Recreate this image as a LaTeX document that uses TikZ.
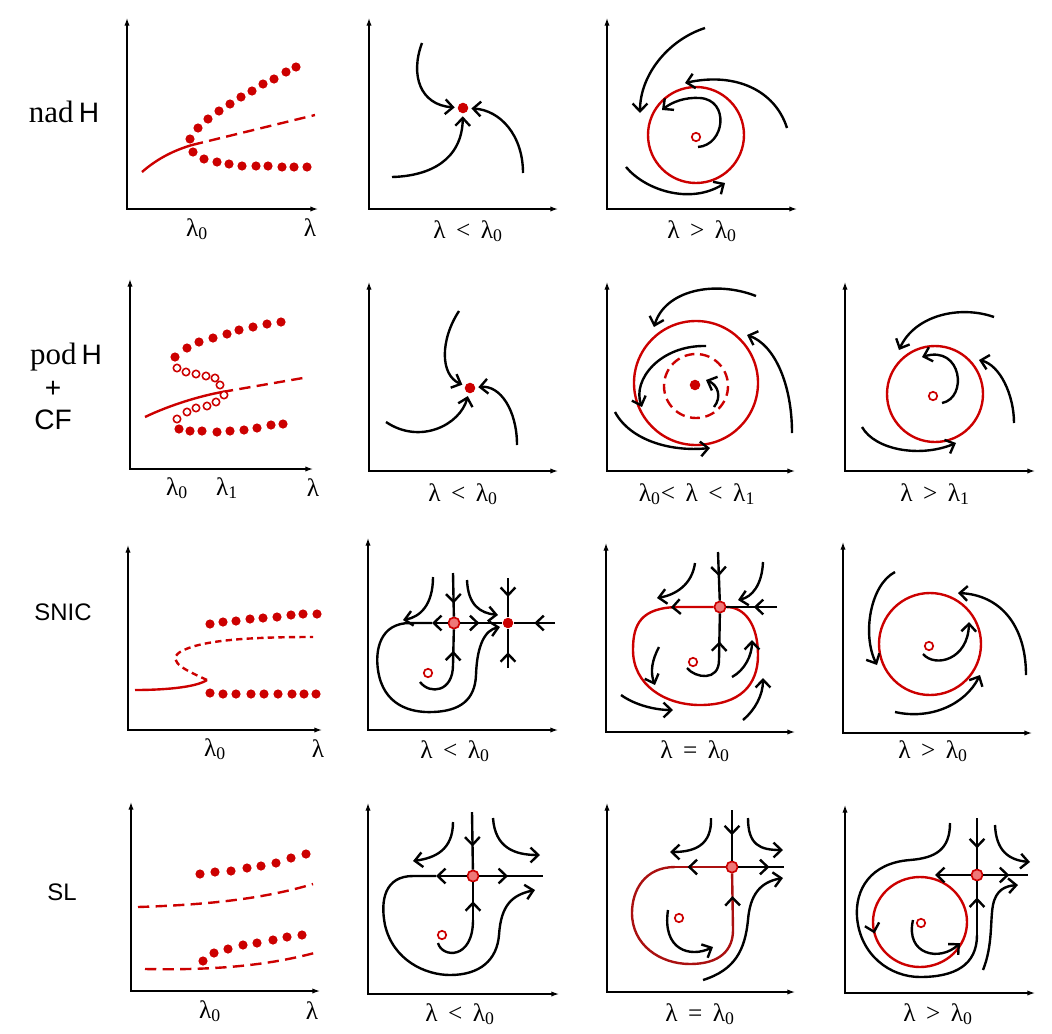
\documentclass[tikz,border=0pt]{standalone}
\usepackage{fontspec}
\setmainfont{Liberation Serif}
\setsansfont{Liberation Sans}
\usetikzlibrary{arrows.meta,decorations.markings}
\definecolor{bred}{RGB}{204,0,0}
\definecolor{dred}{RGB}{170,16,16}
\definecolor{sred}{RGB}{238,120,120}
\begin{document}
\begin{tikzpicture}[
x=0.025cm,y=-0.025cm,
>={Straight Barb[length=5.5pt,width=10.5pt]},
axis/.style={line width=0.9pt,{Latex[length=5.5pt,width=3.8pt]}-{Latex[length=5.5pt,width=3.8pt]}},
line/.style={line width=1.7pt},
flow/.style={line width=1.7pt,->},
orbit/.style={draw=bred,line width=1.7pt},
orbitdark/.style={draw=dred,line width=1.7pt},
longdash/.style={dash pattern=on 8pt off 4.5pt},
shortdash/.style={dash pattern=on 4.5pt off 3pt},
midarrow/.style={postaction={decorate,decoration={markings,mark=at position #1 with {\arrow{>}}}}},
blkarrow/.style={postaction={decorate,decoration={markings,mark=at position #1 with {\arrow[black]{>}}}}},
stable/.style={circle,fill=bred,inner sep=0pt,minimum size=7.5pt},
unstable/.style={circle,draw=bred,fill=white,line width=1.2pt,inner sep=0pt,minimum size=6pt},
saddle/.style={circle,draw=bred,fill=sred,line width=1.2pt,inner sep=0pt,minimum size=8pt},
lab/.style={font=\fontsize{18}{18}\selectfont},
rowlab/.style={font=\fontsize{22}{22}\selectfont},
sflab/.style={font=\sffamily\fontsize{17}{17}\selectfont}
]
\useasboundingbox (0,0) rectangle (1052,1033);

% axes
\foreach \ox/\oy/\top/\right in {127/209/18/318, 369/209/18/558, 607/209/18/797,
  130/469/279/313, 369/471/282/558, 607/471/282/795, 845/471/282/1035,
  128/730/545/322, 368/730/538/558, 606/732/543/795, 843/733/542/1032,
  131/991/802/320, 368/994/803/559, 607/992/803/795, 845/993/805/1035}
  \draw[axis] (\ox,\top) |- (\right,\oy);

% row labels
\node[rowlab] (nadH) at (64,112) {nad\,{\sffamily\fontsize{20}{20}\selectfont H}};
\node[rowlab] (podH) at (66,357) {pod\,{\sffamily\fontsize{20}{20}\selectfont H}};
\node[sflab,font=\sffamily\fontsize{20}{20}\selectfont] (plus) at (53,389) {+};
\node[sflab,font=\sffamily\fontsize{20}{20}\selectfont] (cf) at (53,420) {CF};
\node[sflab] (snic) at (63,612) {SNIC};
\node[sflab] (sl) at (62,892) {SL};

% ---------- row 1 ----------
\draw[orbit] (142,172) .. controls (158,158) and (175,150) .. (192,145);
\draw[orbit,longdash] (192,145) -- (315,115);
\foreach \x/\y in {190/139, 198/128, 208/119, 219/111, 230/104, 241/97, 252/91, 263/84, 274/79, 286/72, 296/67,
  193/152, 204/159, 217/162, 229/164, 242/166, 256/166, 268/166, 282/167, 294/167, 307/167}
  \fill[bred] (\x,\y) circle[radius=4.6];
\node[lab] (a10) at (197,229) {λ\textsubscript{0}};
\node[lab] (a1) at (310,228) {λ};

\node[stable] (p1) at (463,108) {};
\draw[flow,shorten >=2pt] (422,43) .. controls (410,75) and (420,105) .. (p1);
\draw[flow,shorten >=2pt] (392,177) .. controls (430,176) and (462,160) .. (p1);
\draw[flow,shorten >=2pt] (523,173) .. controls (523,135) and (500,110) .. (p1);
\node[lab] (b1) at (468,231) {λ\ \,<\ \,λ\textsubscript{0}};

\draw[orbit] (696,135) circle[radius=48];
\node[unstable] (u1) at (696,137) {};
\draw[flow] (705,28) .. controls (668,40) and (640,75) .. (640,113);
\draw[flow] (787,128) .. controls (775,90) and (735,72) .. (685,83);
\draw[flow] (698,147) .. controls (725,145) and (730,100) .. (700,98) .. controls (685,97) and (672,102) .. (662,110);
\draw[flow] (626,167) .. controls (645,190) and (690,205) .. (725,183);
\node[lab] (c1) at (702,231) {λ\ \,>\ \,λ\textsubscript{0}};

% ---------- row 2 ----------
\draw[orbit] (145,417) .. controls (170,405) and (200,396) .. (222,392);
\draw[orbit,longdash] (222,392) -- (303,378);
\foreach \x/\y in {175/357, 187/348, 199/342, 213/338, 227/334, 239/330, 253/327, 267/324, 281/322,
  179/429, 190/431, 202/431, 217/432, 230/431, 244/430, 257/428, 271/425, 283/424}
  \fill[bred] (\x,\y) circle[radius=4.6];
\foreach \x/\y in {177/368, 186/372, 196/374, 206/376, 215/378, 220/385, 224/395, 216/402, 207/406, 196/408, 187/412, 177/419}
  \draw[bred,line width=1.1pt,fill=white] (\x,\y) circle[radius=3.7];
\node[lab] (a20) at (177,488) {λ\textsubscript{0}};
\node[lab] (a21) at (227,488) {λ\textsubscript{1}};
\node[lab] (a2) at (313,488) {λ};

\node[stable] (p2) at (470,388) {};
\draw[flow,shorten >=2pt] (459,311) .. controls (440,340) and (440,375) .. (p2);
\draw[flow,shorten >=2pt] (386,422) .. controls (420,445) and (460,425) .. (p2);
\draw[flow,shorten >=2pt] (517,445) .. controls (517,410) and (500,385) .. (p2);
\node[lab] (b2) at (463,494) {λ\ \,<\ \,λ\textsubscript{0}};

\draw[orbit] (696,383) circle[radius=62];
\draw[orbit,dash pattern=on 7pt off 4pt] (696,386) circle[radius=32];
\node[stable] (p3) at (695,385) {};
\draw[flow] (756,296) .. controls (715,280) and (665,290) .. (654,327);
\draw[flow] (792,433) .. controls (792,385) and (775,345) .. (747,335);
\draw[flow] (706,346) .. controls (660,345) and (632,380) .. (642,407);
\draw[flow] (714,407) .. controls (722,397) and (718,385) .. (706,380);
\draw[flow] (615,412) .. controls (630,440) and (670,452) .. (710,448);
\node[lab] (c2) at (697,494) {λ\textsubscript{0}<\ \,λ\ \,<\ \,λ\textsubscript{1}};

\draw[orbit] (935,394) circle[radius=48];
\node[unstable] (u4) at (933,396) {};
\draw[flow] (994,317) .. controls (960,305) and (915,315) .. (899,350);
\draw[flow] (1014,423) .. controls (1014,395) and (1000,365) .. (979,360);
\draw[flow] (942,403) .. controls (968,398) and (962,345) .. (922,357);
\draw[flow] (862,427) .. controls (875,450) and (920,458) .. (956,443);
\node[lab] (d2) at (935,494) {λ\ \,>\ \,λ\textsubscript{1}};

% ---------- row 3 ----------
\draw[orbit] (135,690) .. controls (160,690) and (195,688) .. (207,680);
\draw[orbit,shortdash] (207,680) .. controls (190,672) and (165,662) .. (180,652) .. controls (200,640) and (250,637) .. (313,637);
\foreach \x/\y in {210/624, 223/622, 236/621, 250/619, 263/618, 277/617, 291/615, 303/614, 317/614,
  210/693, 223/694, 236/694, 251/694, 264/694, 278/694, 292/694, 304/694, 316/694}
  \fill[bred] (\x,\y) circle[radius=4.6];
\node[lab] (a30) at (215,749) {λ\textsubscript{0}};
\node[lab] (a3) at (318,749) {λ};

\node[saddle] (s5) at (454,623) {};
\node[stable] (p5) at (508,623) {};
\node[unstable] (u5) at (428,673) {};
\draw[line,midarrow=0.7] (453,573) -- (s5);
\draw[line,midarrow=0.45] (s5) -- (p5);
\draw[line,midarrow=0.5] (555,623) -- (p5);
\draw[line,midarrow=0.48] (508,578) -- (p5);
\draw[line,midarrow=0.4] (508,668) -- (p5);
\draw[flow] (s5) -- (432,623);
\draw[flow] (432,623) -- (410,623) .. controls (380,623) and (375,650) .. (378,670)
  .. controls (383,705) and (410,713) .. (433,712) .. controls (460,711) and (475,700) .. (476,675)
  .. controls (477,645) and (485,630) .. (500,627);
\draw[line] (420,682) .. controls (430,695) and (453,692) .. (453,665);
\draw[line,midarrow=0.4] (453,665) -- (s5);
\draw[flow] (433,577) .. controls (433,605) and (420,617) .. (403,620);
\draw[flow] (467,580) .. controls (468,605) and (480,613) .. (498,615);
\node[lab] (b3) at (455,751) {λ\ \,<\ \,λ\textsubscript{0}};

\node[saddle] (s6) at (720,607) {};
\node[unstable] (u6) at (693,662) {};
\draw[orbit,blkarrow=0.12] (s6) -- (680,607) .. controls (640,607) and (633,625) .. (633,650)
  .. controls (633,685) and (665,705) .. (700,705) .. controls (740,705) and (758,685) .. (758,655)
  .. controls (758,625) and (745,607) .. (s6);
\draw[line,midarrow=0.5] (718,552) -- (s6);
\draw[line] (687,668) .. controls (695,678) and (719,682) .. (719,660);
\draw[line,midarrow=0.4] (719,660) -- (s6);
\draw[line,midarrow=0.46] (777,607) -- (s6);
\draw[flow] (695,563) .. controls (692,585) and (675,595) .. (657,598);
\draw[flow] (763,562) .. controls (762,585) and (752,597) .. (738,600);
\draw[flow] (659,647) .. controls (652,660) and (650,672) .. (655,685);
\draw[flow] (732,677) .. controls (745,670) and (752,655) .. (752,640);
\draw[flow] (621,695) .. controls (635,705) and (655,710) .. (673,710);
\draw[flow] (743,720) .. controls (755,710) and (763,695) .. (763,678);
\node[lab] (c3) at (695,751) {λ\ \,=\ \,λ\textsubscript{0}};

\draw[orbit] (930,644) circle[radius=51];
\node[unstable] (u7) at (929,646) {};
\draw[flow] (895,572) .. controls (870,585) and (862,635) .. (877,665);
\draw[flow] (1026,675) .. controls (1026,625) and (1000,595) .. (958,593);
\draw[flow] (923,654) .. controls (935,668) and (968,660) .. (969,622);
\draw[flow] (895,712) .. controls (930,720) and (965,705) .. (980,675);
\node[lab] (d3) at (933,751) {λ\ \,>\ \,λ\textsubscript{0}};

% ---------- row 4 ----------
\draw[orbit,longdash] (138,907) .. controls (200,905) and (260,900) .. (313,884);
\draw[orbit,longdash] (145,969) .. controls (200,970) and (260,968) .. (318,952);
\foreach \x/\y in {200/874, 215/872, 231/871, 247/868, 261/866, 276/863, 291/858, 306/854,
  203/961, 214/953, 228/949, 243/945, 257/943, 273/940, 287/937, 302/935}
  \fill[bred] (\x,\y) circle[radius=4.6];
\node[lab] (a40) at (210,1011) {λ\textsubscript{0}};
\node[lab] (a4) at (312,1011) {λ};

\node[saddle] (s8) at (473,876) {};
\node[unstable] (u8) at (442,935) {};
\draw[line,midarrow=0.6] (472,812) -- (s8);
\draw[line,midarrow=0.45] (s8) -- (543,876);
\draw[flow] (s8) -- (436,876);
\draw[flow] (436,876) -- (413,876) .. controls (385,876) and (380,900) .. (385,925)
  .. controls (393,960) and (425,975) .. (450,975) .. controls (480,975) and (497,960) .. (499,935)
  .. controls (501,905) and (512,895) .. (535,890);
\draw[line] (438,943) .. controls (442,958) and (473,960) .. (473,920);
\draw[line,midarrow=0.5] (473,920) -- (s8);
\draw[flow] (453,822) .. controls (453,850) and (435,858) .. (413,861);
\draw[flow] (493,818) .. controls (495,848) and (515,855) .. (540,855);
\node[lab] (b4) at (460,1014) {λ\ \,<\ \,λ\textsubscript{0}};

\node[saddle] (s9) at (732,867) {};
\node[unstable] (u9) at (679,918) {};
\draw[orbitdark,blkarrow=0.75] (s9) -- (675,867);
\draw[orbitdark] (675,867) .. controls (645,867) and (632,890) .. (632,913)
  .. controls (632,945) and (660,964) .. (690,964) .. controls (720,964) and (733,950) .. (733,930);
\draw[orbitdark,blkarrow=0.6] (733,930) -- (s9);
\draw[line,midarrow=0.5] (732,810) -- (s9);
\draw[line,midarrow=0.68] (s9) -- (784,867);
\draw[flow] (711,818) .. controls (712,845) and (695,852) .. (670,852);
\draw[flow] (748,818) .. controls (748,845) and (760,850) .. (783,850);
\draw[flow] (668,910) .. controls (662,950) and (690,958) .. (713,947);
\draw[flow] (703,980) .. controls (735,970) and (745,950) .. (748,920) .. controls (750,895) and (760,882) .. (783,878);
\node[lab] (c4) at (700,1014) {λ\ \,=\ \,λ\textsubscript{0}};

\node[saddle] (s10) at (977,875) {};
\node[unstable] (u10) at (921,923) {};
\draw[orbit,blkarrow=0.04] (873,922) arc[start angle=180,end angle=-180,x radius=47,y radius=45];
\draw[line,midarrow=0.6] (977,818) -- (s10);
\draw[flow] (s10) -- (935,875);
\draw[line,midarrow=0.58] (s10) -- (1028,875);
\draw[line] (950,823) .. controls (950,850) and (935,858) .. (910,860) .. controls (870,863) and (855,890) .. (857,917)
  .. controls (860,955) and (890,977) .. (920,977) .. controls (955,977) and (977,965) .. (977,935);
\draw[line,midarrow=0.7] (977,935) -- (s10);
\draw[flow] (913,920) .. controls (905,955) and (940,962) .. (960,943);
\draw[flow] (995,825) .. controls (996,850) and (1008,860) .. (1030,862);
\draw[flow] (983,970) .. controls (993,945) and (990,920) .. (993,905) .. controls (996,890) and (1005,886) .. (1018,885);
\node[lab] (d4) at (938,1014) {λ\ \,>\ \,λ\textsubscript{0}};
\end{tikzpicture}
\end{document}
